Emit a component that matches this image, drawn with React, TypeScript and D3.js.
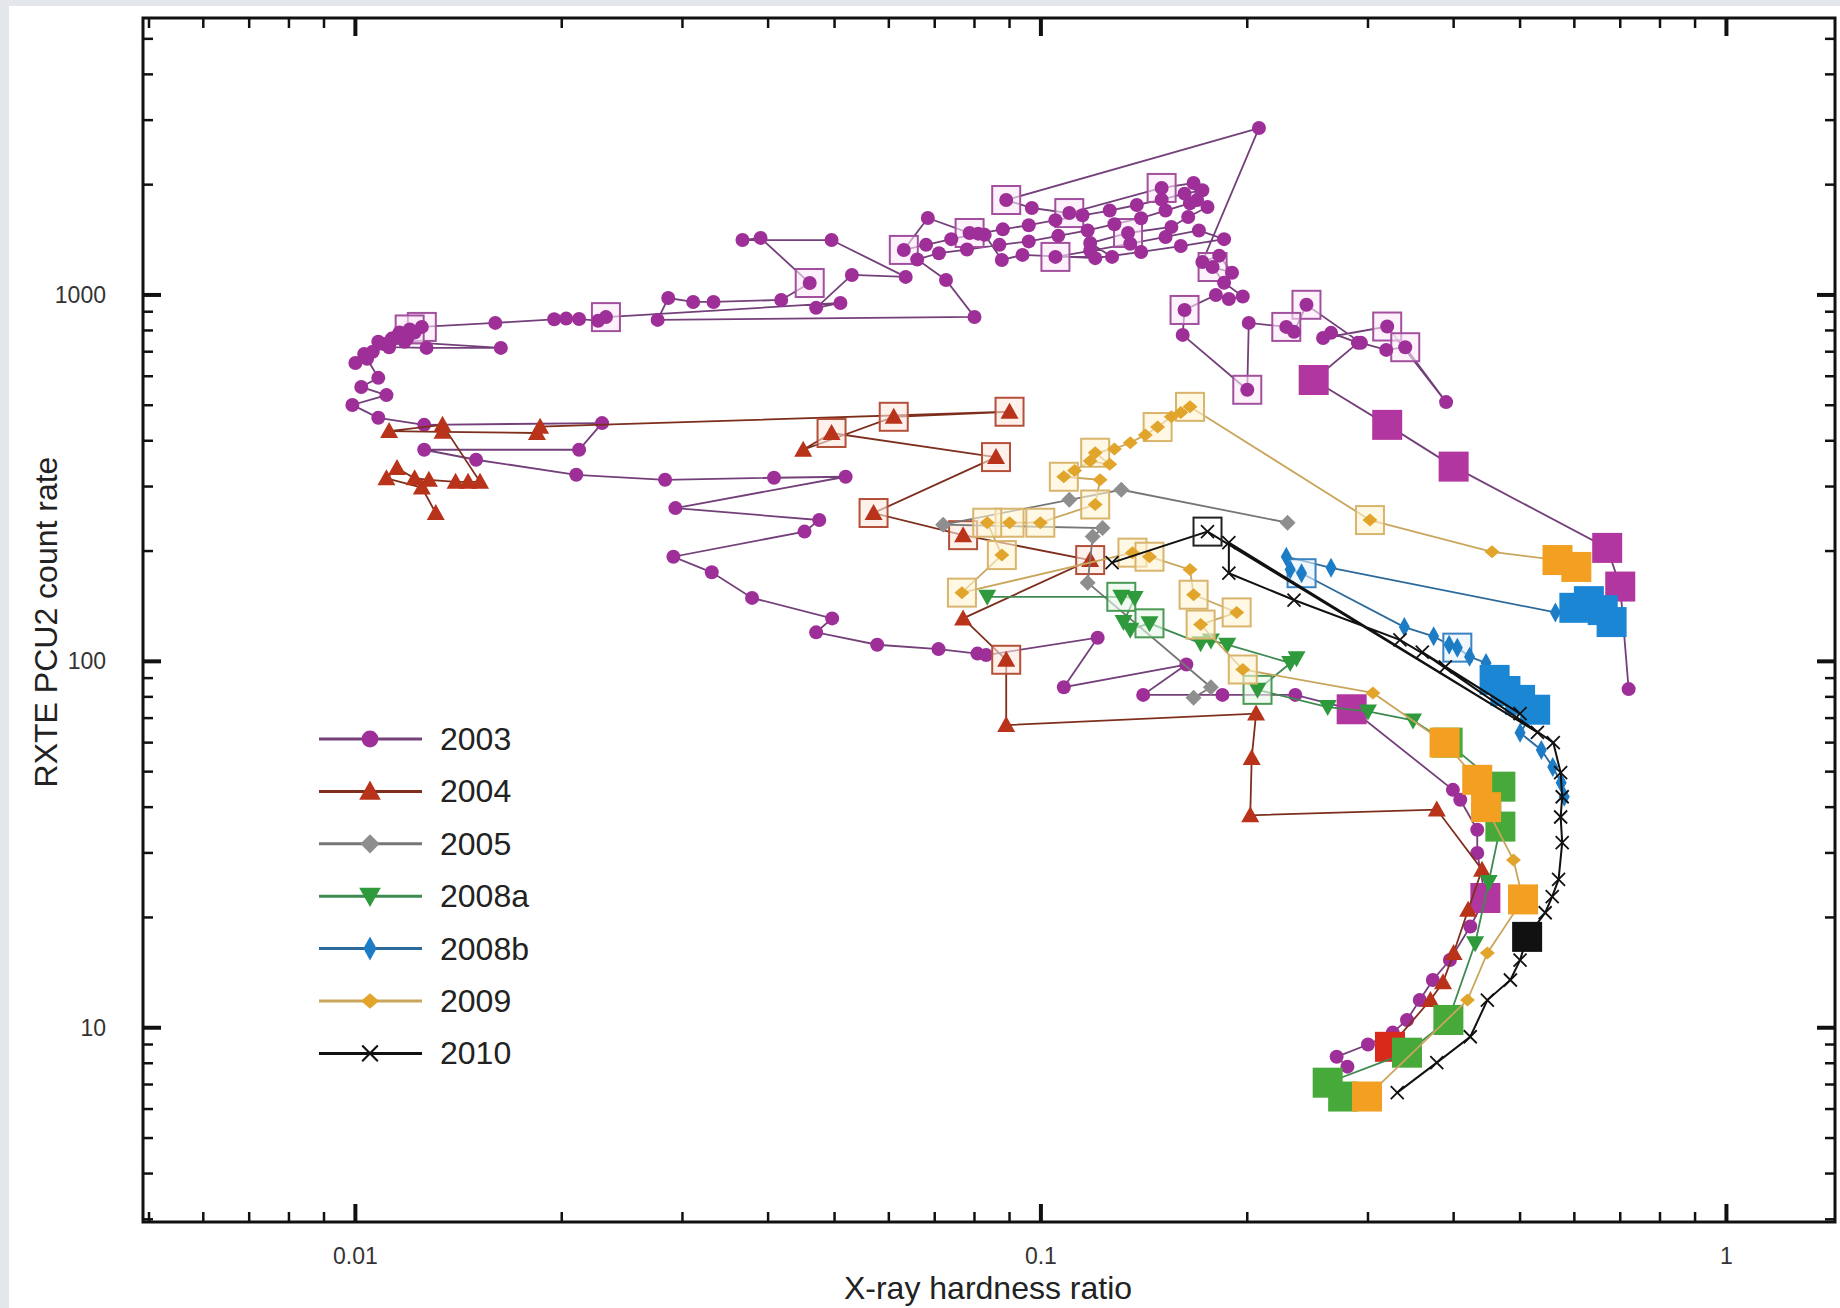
import React from 'react';
import * as d3 from 'd3';

// each point: [hardness ratio, PCU2 count rate, kind]  kind 0 = plain, 1 = boxed, 2 = large square
type Pt = [number, number, number];

const obs2003: Pt[] = [
  [0.72, 84, 0], [0.70, 160, 2], [0.67, 204, 2], [0.40, 340, 2], [0.32, 442, 2], [0.25, 586, 2],
  [0.29, 740, 0], [0.265, 788, 0], [0.258, 763, 0], [0.32, 820, 1], [0.39, 510, 0], [0.34, 720, 1],
  [0.319, 708, 0], [0.293, 740, 0], [0.244, 940, 1], [0.234, 793, 0], [0.228, 818, 1], [0.201, 839, 0],
  [0.200, 551, 1], [0.161, 778, 0], [0.162, 910, 1], [0.180, 1000, 0], [0.188, 975, 0], [0.197, 990, 0],
  [0.185, 1080, 0], [0.178, 1192, 1], [0.19, 1150, 0], [0.182, 1280, 0], [0.172, 1230, 0], [0.208, 2855, 0],
  [0.089, 1816, 1], [0.097, 1727, 0], [0.110, 1673, 1], [0.150, 1959, 1], [0.167, 2021, 0], [0.169, 1816, 0],
  [0.175, 1738, 0], [0.164, 1632, 0], [0.155, 1533, 0], [0.134, 1476, 1], [0.118, 1386, 0], [0.127, 1270, 0],
  [0.105, 1270, 1], [0.118, 1320, 0], [0.135, 1380, 0], [0.152, 1440, 0], [0.17, 1500, 0], [0.185, 1420, 0],
  [0.16, 1360, 0], [0.14, 1310, 0], [0.12, 1260, 0], [0.094, 1286, 0], [0.0877, 1246, 0], [0.0828, 1459, 0],
  [0.0787, 1476, 1], [0.0684, 1622, 0], [0.0631, 1327, 1], [0.068, 1370, 0], [0.074, 1420, 0], [0.081, 1470, 0],
  [0.088, 1510, 0], [0.096, 1550, 0], [0.105, 1600, 0], [0.115, 1650, 0], [0.126, 1700, 0], [0.138, 1760, 0],
  [0.15, 1820, 0], [0.162, 1890, 0], [0.172, 1930, 0], [0.165, 1780, 0], [0.152, 1700, 0], [0.14, 1620, 0],
  [0.128, 1560, 0], [0.117, 1500, 0], [0.106, 1450, 0], [0.096, 1400, 0], [0.087, 1370, 0], [0.078, 1330, 0],
  [0.071, 1300, 0], [0.066, 1250, 0], [0.0727, 1099, 0], [0.080, 871, 0], [0.0276, 855, 0], [0.0286, 981, 0],
  [0.0311, 957, 0], [0.0333, 957, 0], [0.0418, 969, 0], [0.046, 1078, 1], [0.039, 1431, 0], [0.0367, 1412, 0],
  [0.0495, 1412, 0], [0.0635, 1120, 0], [0.053, 1134, 0], [0.047, 922, 0], [0.051, 951, 0], [0.0232, 870, 1],
  [0.0226, 850, 0], [0.0212, 860, 0], [0.0203, 862, 0], [0.0195, 858, 0], [0.016, 839, 0], [0.0125, 818, 1],
  [0.0120, 805, 1], [0.0122, 790, 0], [0.0118, 780, 0], [0.0115, 770, 0], [0.0119, 760, 0], [0.0116, 790, 0],
  [0.0113, 760, 0], [0.0110, 735, 0], [0.0108, 745, 0], [0.0112, 720, 0], [0.0127, 717, 0], [0.0163, 717, 0],
  [0.0118, 745, 0], [0.0106, 700, 0], [0.0103, 690, 0], [0.0100, 652, 0], [0.0104, 670, 0], [0.0108, 594, 0],
  [0.0102, 561, 0], [0.0111, 533, 0], [0.0099, 501, 0], [0.0108, 462, 0], [0.0126, 442, 0], [0.0229, 447, 0],
  [0.0212, 378, 0], [0.0126, 378, 0], [0.015, 355, 0], [0.021, 323, 0], [0.0283, 313, 0], [0.0408, 317, 0],
  [0.0519, 319, 0], [0.0293, 262, 0], [0.0475, 243, 0], [0.0452, 226, 0], [0.0291, 193, 0], [0.0331, 175, 0],
  [0.0379, 149, 0], [0.0496, 131, 0], [0.047, 120, 0], [0.0577, 111, 0], [0.0709, 108, 0], [0.0808, 105, 0],
  [0.0832, 104, 0], [0.121, 116, 0], [0.108, 85, 0], [0.163, 98, 0], [0.141, 81, 0], [0.184, 81, 0],
  [0.235, 81, 0], [0.284, 74, 2], [0.399, 44.6, 0], [0.409, 41.9, 0], [0.433, 34.7, 0], [0.433, 30, 0],
  [0.445, 22.6, 2], [0.423, 18.9, 0], [0.395, 15.3, 0], [0.373, 13.5, 0], [0.357, 11.9, 0], [0.342, 10.5, 0],
  [0.326, 9.7, 0], [0.30, 9.0, 0], [0.270, 8.33, 0], [0.280, 7.83, 0],
];

const obs2004: Pt[] = [
  [0.0131, 254, 0], [0.0125, 298, 0], [0.0111, 316, 0], [0.0115, 337, 0], [0.0122, 316, 0], [0.0128, 313, 0],
  [0.0140, 309, 0], [0.0146, 309, 0], [0.0152, 309, 0], [0.0134, 442, 0], [0.0112, 425, 0], [0.0134, 423, 0],
  [0.0184, 420, 0], [0.0186, 437, 0], [0.090, 480, 1], [0.061, 465, 1], [0.045, 378, 0], [0.0495, 420, 1],
  [0.086, 361, 1], [0.057, 254, 1], [0.077, 221, 1], [0.118, 189, 1], [0.077, 131, 0], [0.089, 101, 1],
  [0.089, 67, 0], [0.206, 72, 0], [0.203, 54.5, 0], [0.202, 38, 0], [0.378, 39.4, 0], [0.44, 27, 0],
  [0.42, 21, 0], [0.40, 16, 0], [0.386, 13.3, 0], [0.37, 11.9, 0], [0.323, 8.87, 2],
];

const obs2005: Pt[] = [
  [0.229, 239, 0], [0.131, 294, 0], [0.110, 276, 0], [0.072, 236, 0], [0.123, 231, 0], [0.119, 219, 0],
  [0.117, 164, 0], [0.177, 85, 0], [0.167, 79.5, 0],
];

const obs2008a: Pt[] = [
  [0.0835, 150, 0], [0.131, 150, 1], [0.137, 149, 0], [0.132, 128, 0], [0.135, 122, 0], [0.144, 127, 1],
  [0.171, 112, 0], [0.177, 114, 0], [0.187, 111, 0], [0.231, 99, 0], [0.236, 102, 0], [0.207, 83.6, 1],
  [0.262, 75, 0], [0.30, 73, 0], [0.349, 69, 0], [0.392, 60, 2], [0.468, 45.5, 2], [0.468, 35.4, 2],
  [0.45, 25, 0], [0.43, 17, 0], [0.393, 10.5, 2], [0.342, 8.55, 2], [0.262, 7.08, 2], [0.276, 6.49, 2],
];

const obs2008b: Pt[] = [
  [0.68, 128, 2], [0.66, 138, 2], [0.63, 146, 2], [0.60, 140, 2], [0.563, 136, 0], [0.265, 180, 0],
  [0.228, 193, 0], [0.231, 178, 0], [0.240, 174, 1], [0.339, 124, 0], [0.374, 117, 0], [0.394, 111, 0],
  [0.405, 109, 1], [0.422, 103, 0], [0.446, 99, 0], [0.459, 89, 2], [0.476, 83, 2], [0.50, 78.5, 2],
  [0.526, 73.8, 2], [0.50, 63.8, 0], [0.537, 57.3, 0], [0.558, 51.5, 0], [0.574, 46.6, 0], [0.58, 42.7, 0],
];

const obs2009: Pt[] = [
  [0.604, 181, 2], [0.567, 189, 2], [0.455, 199, 0], [0.302, 243, 1], [0.165, 495, 1], [0.16, 478, 0],
  [0.155, 465, 0], [0.148, 436, 1], [0.142, 415, 0], [0.135, 395, 0], [0.128, 380, 0], [0.12, 371, 1],
  [0.126, 345, 0], [0.118, 352, 0], [0.112, 332, 0], [0.108, 319, 1], [0.122, 313, 0], [0.12, 268, 1],
  [0.0998, 239, 1], [0.090, 239, 1], [0.0835, 239, 1], [0.0877, 195, 1], [0.0767, 154, 1], [0.136, 198, 1],
  [0.144, 193, 1], [0.165, 178, 0], [0.167, 152, 1], [0.193, 136, 1], [0.171, 126, 1], [0.197, 95, 1],
  [0.305, 82, 0], [0.388, 60, 2], [0.433, 47.5, 2], [0.446, 40, 2], [0.489, 28.7, 0], [0.505, 22.4, 2],
  [0.448, 16, 0], [0.419, 11.9, 0], [0.299, 6.49, 2],
];

const obs2010: Pt[] = [
  [0.127, 186, 0], [0.175, 226, 1], [0.53, 64, 0], [0.188, 211, 0], [0.188, 174, 0], [0.234, 147, 0],
  [0.334, 114.5, 0], [0.389, 96.6, 0], [0.50, 72, 0], [0.36, 106, 0], [0.559, 60, 0], [0.573, 49.7, 0],
  [0.576, 42.7, 0], [0.573, 37.6, 0], [0.576, 32, 0], [0.569, 25.4, 0], [0.557, 22.8, 0], [0.544, 20.6, 0],
  [0.512, 17.7, 2], [0.50, 15.3, 0], [0.484, 13.5, 0], [0.448, 11.9, 0], [0.423, 9.45, 0], [0.378, 8.03, 0],
  [0.331, 6.65, 0],
];

const seriesNames = ['2003', '2004', '2005', '2008a', '2008b', '2009', '2010'];
const seriesData = [obs2003, obs2004, obs2005, obs2008a, obs2008b, obs2009, obs2010];
const xTickValues = [0.01, 0.1, 1];
const xTickLabels = ['0.01', '0.1', '1'];
const yTickValues = [10, 100, 1000];
const yTickLabels = ['10', '100', '1000'];

const look = [
  { shape: 'circle', fill: '#9e2f98', line: '#74407a', box: '#a2509e', boxFill: '#fbeaf8', big: '#b2369f' },
  { shape: 'tri', fill: '#b8331a', line: '#7e2e1c', box: '#b4503a', boxFill: '#fde6dc', big: '#d8291a' },
  { shape: 'diamond', fill: '#8e8e8e', line: '#767676', box: '#8e8e8e', boxFill: '#f2f2f2', big: '#8e8e8e' },
  { shape: 'tridown', fill: '#2f9a3c', line: '#3f8a52', box: '#4a9a55', boxFill: '#e8f6e8', big: '#46a93a' },
  { shape: 'thin', fill: '#1c7cc6', line: '#2c6a9c', box: '#3a82c0', boxFill: '#e6f1fb', big: '#1b87d4' },
  { shape: 'small', fill: '#e2a52c', line: '#c9a65c', box: '#d9b46c', boxFill: '#fff4d2', big: '#f29f22' },
  { shape: 'x', fill: '#111111', line: '#111111', box: '#222222', boxFill: 'none', big: '#111111' },
];

const shapePath: Record<string, string> = {
  tri: 'M0,-9L9,7L-9,7Z',
  tridown: 'M0,9L9,-7L-9,-7Z',
  diamond: 'M0,-8L8,0L0,8L-8,0Z',
  thin: 'M0,-10L5.5,0L0,10L-5.5,0Z',
  small: 'M0,-6.5L7.5,0L0,6.5L-7.5,0Z',
  x: 'M-6.5,-6.5L6.5,6.5M-6.5,6.5L6.5,-6.5',
};

function Marker({ shape, color, cx, cy, k = 1 }: { shape: string; color: string; cx: number; cy: number; k?: number }) {
  if (shape === 'circle') return <circle cx={cx} cy={cy} r={7 * k} fill={color} />;
  if (shape === 'x')
    return <path d={shapePath.x} transform={`translate(${cx},${cy}) scale(${k})`} stroke={color} strokeWidth={1.8} fill="none" />;
  return <path d={shapePath[shape]} transform={`translate(${cx},${cy}) scale(${k})`} fill={color} />;
}

export default function App() {
  const W = 1840, H = 1308;
  const left = 143, right = 1835, top = 18, bottom = 1222;
  const x = d3.scaleLog().domain([0.0049, 1.44]).range([left, right]);
  const y = d3.scaleLog().domain([2.95, 5700]).range([bottom, top]);
  const line = d3.line<Pt>().x((d) => x(d[0])).y((d) => y(d[1]));

  const xMinor: number[] = [];
  for (let e = -3; e <= 0; e++) for (let m = 2; m <= 9; m++) {
    const v = m * Math.pow(10, e);
    if (v >= 0.0049 && v <= 1.44) xMinor.push(v);
  }
  const yMinor: number[] = [];
  for (let e = 0; e <= 3; e++) for (let m = 2; m <= 9; m++) {
    const v = m * Math.pow(10, e);
    if (v >= 2.95 && v <= 5700) yMinor.push(v);
  }

  const font = 'Liberation Sans, Arial, Helvetica, sans-serif';

  return (
    <svg width={W} height={H} style={{ position: 'absolute', left: 0, top: 0, display: 'block' }}>
      <rect x={0} y={0} width={W} height={H} fill="#e3e7ec" />
      <rect x={9} y={6} width={W - 9} height={H - 6} fill="#ffffff" />

      {seriesData.map((pts, si) => {
        const st = look[si];
        return (
          <g key={seriesNames[si]}>
            <path d={line(pts) || ''} fill="none" stroke={st.line} strokeWidth={si === 6 ? 2 : 1.8} />
            {pts.map((p, i) =>
              p[2] === 1 ? (
                <rect key={'b' + i} x={x(p[0]) - 14} y={y(p[1]) - 14} width={28} height={28}
                  fill={st.boxFill} fillOpacity={0.6} stroke={st.box} strokeWidth={2} />
              ) : null
            )}
            {pts.map((p, i) =>
              p[2] === 2 ? (
                <rect key={'s' + i} x={x(p[0]) - 15} y={y(p[1]) - 15} width={30} height={30} fill={st.big} />
              ) : (
                <Marker key={'m' + i} shape={st.shape} color={st.fill} cx={x(p[0])} cy={y(p[1])} />
              )
            )}
          </g>
        );
      })}

      {/* frame and ticks */}
      <rect x={left} y={top} width={right - left} height={bottom - top} fill="none" stroke="#111" strokeWidth={3} />
      {xTickValues.map((v) => (
        <g key={'xM' + v}>
          <line x1={x(v)} x2={x(v)} y1={bottom} y2={bottom - 18} stroke="#111" strokeWidth={4} />
          <line x1={x(v)} x2={x(v)} y1={top} y2={top + 18} stroke="#111" strokeWidth={4} />
        </g>
      ))}
      {xMinor.map((v) => (
        <g key={'xm' + v}>
          <line x1={x(v)} x2={x(v)} y1={bottom} y2={bottom - 10} stroke="#111" strokeWidth={2.5} />
          <line x1={x(v)} x2={x(v)} y1={top} y2={top + 10} stroke="#111" strokeWidth={2.5} />
        </g>
      ))}
      {yTickValues.map((v) => (
        <g key={'yM' + v}>
          <line x1={left} x2={left + 18} y1={y(v)} y2={y(v)} stroke="#111" strokeWidth={4} />
          <line x1={right} x2={right - 18} y1={y(v)} y2={y(v)} stroke="#111" strokeWidth={4} />
        </g>
      ))}
      {yMinor.map((v) => (
        <g key={'ym' + v}>
          <line x1={left} x2={left + 10} y1={y(v)} y2={y(v)} stroke="#111" strokeWidth={2.5} />
          <line x1={right} x2={right - 10} y1={y(v)} y2={y(v)} stroke="#111" strokeWidth={2.5} />
        </g>
      ))}

      {xTickValues.map((v, i) => (
        <text key={'xl' + v} x={x(v)} y={1264} textAnchor="middle" fontFamily={font} fontSize={23} fill="#333">
          {xTickLabels[i]}
        </text>
      ))}
      {yTickValues.map((v, i) => (
        <text key={'yl' + v} x={106} y={y(v)} textAnchor="end" dominantBaseline="central" fontFamily={font} fontSize={23} fill="#333">
          {yTickLabels[i]}
        </text>
      ))}

      <text x={988} y={1299} textAnchor="middle" fontFamily={font} fontSize={32} fill="#222">
        X-ray hardness ratio
      </text>
      <text transform="translate(57,622) rotate(-90)" textAnchor="middle" fontFamily={font} fontSize={32} fill="#222">
        RXTE PCU2 count rate
      </text>

      {/* legend */}
      {seriesNames.map((name, i) => {
        const st = look[i];
        const ly = 739 + i * 52.4;
        return (
          <g key={'lg' + name}>
            <line x1={319} x2={422} y1={ly} y2={ly} stroke={st.line} strokeWidth={3} />
            <Marker shape={st.shape} color={st.fill} cx={370} cy={ly} k={1.2} />
            <text x={440} y={ly} dominantBaseline="central" fontFamily={font} fontSize={32} fill="#222">
              {name}
            </text>
          </g>
        );
      })}
    </svg>
  );
}
